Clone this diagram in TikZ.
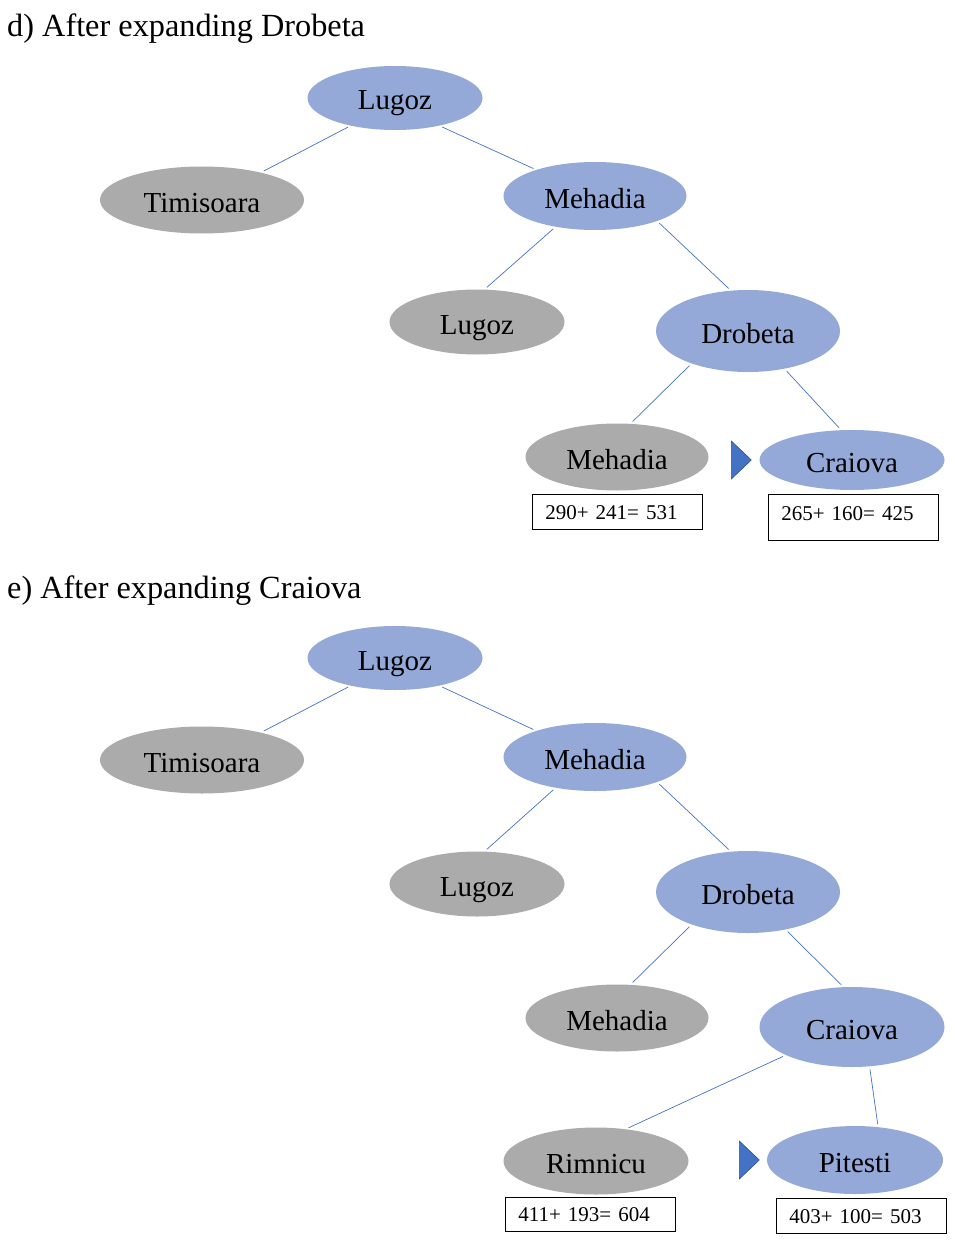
\documentclass[tikz,border=0pt]{standalone}
\usepackage{fontspec}
\setmainfont{Liberation Serif}
\usetikzlibrary{shapes.geometric}

\definecolor{cityblue}{HTML}{94A9D8}
\definecolor{citygray}{HTML}{ABABAB}
\definecolor{linkblue}{HTML}{4472C4}
\definecolor{markedge}{HTML}{2F528F}

\tikzset{
  city/.style={ellipse, inner sep=0pt, text height=24pt, text depth=0pt, font=\fontsize{29}{33}\selectfont},
  open/.style={city, fill=cityblue},
  closed/.style={city, fill=citygray},
  costbox/.style={draw, line width=0.8pt, anchor=north west, inner xsep=13pt, inner ysep=0pt,
    minimum width=170pt, text width=144pt, align=left, text height=15pt, text depth=0pt,
    font=\fontsize{21}{24}\selectfont},
  pointer/.style={isosceles triangle, isosceles triangle stretches, shape border rotate=0,
    minimum height=20pt, minimum width=38pt, inner sep=0pt, anchor=lower side,
    fill=linkblue, draw=markedge, line width=0.6pt},
  heading/.style={anchor=base west, inner sep=0pt, font=\fontsize{32.3}{36}\selectfont}
}

\begin{document}
\begin{tikzpicture}[x=1pt,y=-1pt]
  \useasboundingbox (0,0) rectangle (954,1252);

  % d) after expanding Drobeta
  \node[heading] (titleD) at (7,37) {d) After expanding Drobeta};

  \node[open, minimum width=175pt, minimum height=64pt]   (lugD)  at (395,98)  {Lugoz};
  \node[closed, minimum width=204pt, minimum height=67pt] (timD)  at (202,200) {Timisoara};
  \node[open, minimum width=183pt, minimum height=68pt]   (mehD)  at (595,196) {Mehadia};
  \node[closed, minimum width=175pt, minimum height=65pt] (lugbD) at (477,322) {Lugoz};
  \node[open, minimum width=184pt, minimum height=82pt]   (droD)  at (748,331) {Drobeta};
  \node[closed, minimum width=183pt, minimum height=67pt] (mehbD) at (617,457) {Mehadia};
  \node[open, minimum width=185pt, minimum height=60pt]   (craD)  at (852,460) {Craiova};

  \node[pointer] (markD) at (731,460) {};
  \node[costbox, minimum height=35pt] (costaD) at (532,494) {290+ 241= 531};
  \node[costbox, minimum height=46pt, text depth=9pt] (costbD) at (768,494) {265+ 160= 425};

  \begin{scope}[every edge/.style={draw=linkblue, line width=0.7pt, shorten <=3pt, shorten >=3pt}]
    \path (lugD.212)  edge (timD.25);
    \path (lugD.328)  edge (mehD.156);
    \path (mehD.218)  edge (lugbD.77);
    \path (mehD.338)  edge (droD.113);
    \path (droD.210)  edge (mehbD.68);
    \path (droD.314)  edge (craD.110);
  \end{scope}

  % e) after expanding Craiova
  \node[heading] (titleE) at (7,598) {e) After expanding Craiova};

  \node[open, minimum width=175pt, minimum height=64pt]   (lugE)  at (395,658)  {Lugoz};
  \node[closed, minimum width=204pt, minimum height=67pt] (timE)  at (202,760)  {Timisoara};
  \node[open, minimum width=183pt, minimum height=68pt]   (mehE)  at (595,757)  {Mehadia};
  \node[closed, minimum width=175pt, minimum height=65pt] (lugbE) at (477,884)  {Lugoz};
  \node[open, minimum width=184pt, minimum height=82pt]   (droE)  at (748,892)  {Drobeta};
  \node[closed, minimum width=183pt, minimum height=67pt] (mehbE) at (617,1018) {Mehadia};
  \node[open, minimum width=185pt, minimum height=80pt]   (craE)  at (852,1027) {Craiova};
  \node[closed, minimum width=185pt, minimum height=67pt] (rimE)  at (596,1161) {Rimnicu};
  \node[open, minimum width=176pt, minimum height=68pt]   (pitE)  at (855,1160) {Pitesti};

  \node[pointer] (markE) at (739,1160) {};
  \node[costbox, minimum height=34pt] (costaE) at (505,1197) {411+ 193= 604};
  \node[costbox, minimum height=35pt] (costbE) at (776,1198) {403+ 100= 503};

  \begin{scope}[every edge/.style={draw=linkblue, line width=0.7pt, shorten <=3pt, shorten >=3pt}]
    \path (lugE.212)  edge (timE.25);
    \path (lugE.328)  edge (mehE.156);
    \path (mehE.218)  edge (lugbE.77);
    \path (mehE.338)  edge (droE.113);
    \path (droE.210)  edge (mehbE.68);
    \path (droE.315)  edge (craE.102);
    \path (craE.203)  edge (rimE.47);
    \path (craE.294)  edge (pitE.55);
  \end{scope}

\end{tikzpicture}
\end{document}
